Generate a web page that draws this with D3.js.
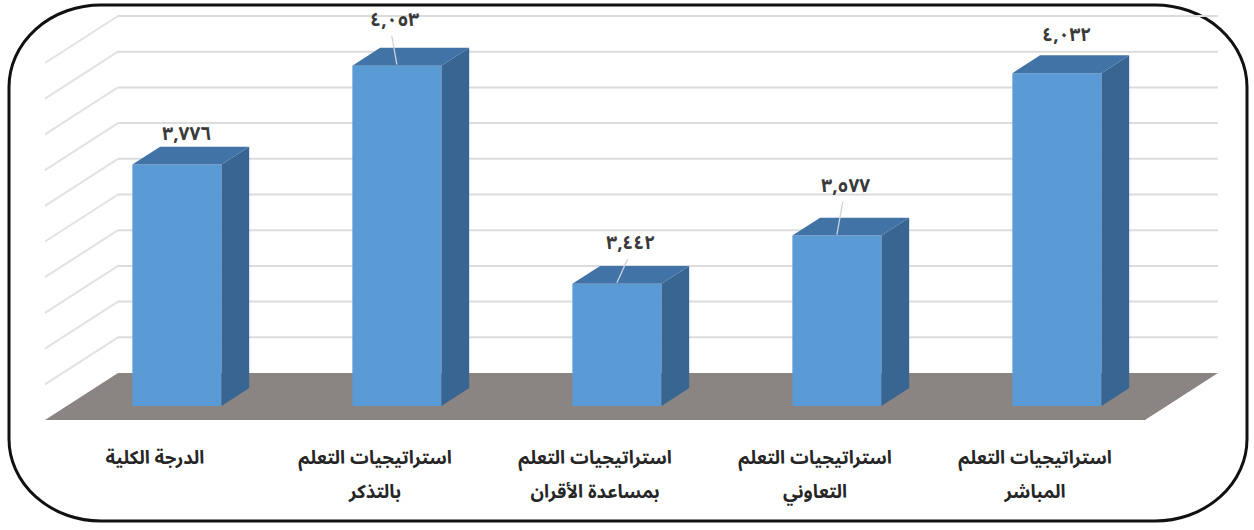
<!DOCTYPE html>
<html lang="ar">
<head>
<meta charset="utf-8">
<script src="https://cdn.jsdelivr.net/npm/d3@7"></script>
<style>
  html, body { margin: 0; padding: 0; background: #fff; }
  svg { display: block; }
  .val { font-family: "Noto Sans Arabic", "DejaVu Sans", sans-serif; font-weight: bold; font-size: 19px; fill: #3a3a3a; }
  .cat { font-family: "Noto Sans Arabic", "DejaVu Sans", sans-serif; font-weight: bold; font-size: 18.5px; fill: #262626; }
</style>
</head>
<body>
<div class="chart"></div>
<script>
// categories in the sheet's order (first one sits on the right)
var categories = [
  "استراتيجيات التعلم المباشر",
  "استراتيجيات التعلم التعاوني",
  "استراتيجيات التعلم بمساعدة الأقران",
  "استراتيجيات التعلم بالتذكر",
  "الدرجة الكلية"
];
var categoryLines = [
  ["استراتيجيات التعلم", "المباشر"],
  ["استراتيجيات التعلم", "التعاوني"],
  ["استراتيجيات التعلم", "بمساعدة الأقران"],
  ["استراتيجيات التعلم", "بالتذكر"],
  ["الدرجة الكلية"]
];
var values = [4.032, 3.577, 3.442, 4.053, 3.776];
var valueLabels = ["٤,٠٣٢", "٣,٥٧٧", "٣,٤٤٢", "٤,٠٥٣", "٣,٧٧٦"];
var axisDomain = [3.1, 4.1];

function wrapper(){

  var w = 1254, h = 530;

  var svg = d3.select("div.chart")
              .append("svg")
              .attr("width", w)
              .attr("height", h)
              .attr("viewBox", `0 0 ${w} ${h}`);

  //oblique depth vector for the whole floor
  var DX = 73, DY = 47;
  var barDepth = [0.3, 0.68];

  var x = d3.scaleBand()
            .domain(categories)
            .range([1145, 45]);

  //value -> y at the front edge of the floor
  var y = d3.scaleLinear()
            .domain(axisDomain)
            .range([420, 63]);

  function proj(xw, v, d){
    return [xw + d*DX, y(v) - d*DY];
  }

  //label nudges (manually moved data labels)
  var labelNudge = [[-4,-28],[-5,-40],[0,-31],[-16,-36],[-4,-21]];
  var leader = [false, true, true, true, false];

  //frame
  svg.append("rect")
     .attr("x", 9).attr("y", 5)
     .attr("width", 1238).attr("height", 516)
     .attr("rx", 92).attr("ry", 82)
     .attr("fill", "#fff")
     .attr("stroke", "#111")
     .attr("stroke-width", 3);

  var ticks = y.ticks(10).filter(t => t > axisDomain[0] + 1e-9);
  var x0 = x.range()[1], x1 = x.range()[0];

  //back wall gridlines
  svg.append("g")
     .selectAll("line")
     .data(ticks)
     .enter()
     .append("line")
       .attr("x1", t => proj(x0, t, 1)[0])
       .attr("y1", t => proj(x0, t, 1)[1])
       .attr("x2", t => proj(x1, t, 1)[0])
       .attr("y2", t => proj(x1, t, 1)[1])
       .attr("stroke", "#dcdcdc")
       .attr("stroke-width", 2);

  //side wall gridlines
  svg.append("g")
     .selectAll("line")
     .data(ticks)
     .enter()
     .append("line")
       .attr("x1", t => proj(x0, t, 1)[0])
       .attr("y1", t => proj(x0, t, 1)[1])
       .attr("x2", t => proj(x0, t, 0)[0])
       .attr("y2", t => proj(x0, t, 0)[1])
       .attr("stroke", "#e2e2e2")
       .attr("stroke-width", 2);

  //floor
  var base = axisDomain[0];
  var floorPts = [proj(x0, base, 1), proj(x1, base, 1), proj(x1, base, 0), proj(x0, base, 0)];
  svg.append("polygon")
     .attr("points", floorPts.map(p => p.join(",")).join(" "))
     .attr("fill", "#8a8482");

  //bars
  var bw = x.bandwidth() * 0.405;
  var pad = (x.bandwidth() - bw) / 2;

  var bars = categories.map(function(c, i){
    var xl = x(c) + pad;
    return {cat: c, value: values[i], label: valueLabels[i], xl: xl, xr: xl + bw, i: i};
  });

  function pts(arr){ return arr.map(p => p.join(",")).join(" "); }

  var g = svg.append("g")
             .selectAll("g")
             .data(bars)
             .enter()
             .append("g");

  //front
  g.append("polygon")
   .attr("points", d => pts([
       proj(d.xl, d.value, barDepth[0]), proj(d.xr, d.value, barDepth[0]),
       proj(d.xr, base, barDepth[0]), proj(d.xl, base, barDepth[0])]))
   .attr("fill", "#5b9bd5");

  //side
  g.append("polygon")
   .attr("points", d => pts([
       proj(d.xr, d.value, barDepth[0]), proj(d.xr, d.value, barDepth[1]),
       proj(d.xr, base, barDepth[1]), proj(d.xr, base, barDepth[0])]))
   .attr("fill", "#386591");

  //top
  g.append("polygon")
   .attr("points", d => pts([
       proj(d.xl, d.value, barDepth[0]), proj(d.xl, d.value, barDepth[1]),
       proj(d.xr, d.value, barDepth[1]), proj(d.xr, d.value, barDepth[0])]))
   .attr("fill", "#4273a6");

  //data labels
  function topCenter(d){
    var dm = (barDepth[0] + barDepth[1]) / 2;
    return proj((d.xl + d.xr) / 2, d.value, dm);
  }

  g.filter(d => leader[d.i])
   .append("line")
     .attr("x1", d => topCenter(d)[0] + labelNudge[d.i][0] - 3)
     .attr("y1", d => topCenter(d)[1] + labelNudge[d.i][1] + 15)
     .attr("x2", d => proj((d.xl + d.xr) / 2, d.value, barDepth[0])[0])
     .attr("y2", d => proj((d.xl + d.xr) / 2, d.value, barDepth[0])[1] - 1)
     .attr("stroke", "#c9d3dd")
     .attr("stroke-width", 1.3);

  g.append("text")
   .attr("class", "val")
   .attr("text-anchor", "middle")
   .attr("dominant-baseline", "middle")
   .attr("x", d => topCenter(d)[0] + labelNudge[d.i][0])
   .attr("y", d => topCenter(d)[1] + labelNudge[d.i][1])
   .text(d => d.label);

  //category labels, one text per line
  var lineData = [];
  categories.forEach(function(c, i){
    categoryLines[i].forEach(function(line, k){
      lineData.push({cat: c, text: line, k: k});
    });
  });

  svg.append("g")
     .selectAll("text")
     .data(lineData)
     .enter()
     .append("text")
       .attr("class", "cat")
       .attr("text-anchor", "middle")
       .attr("direction", "rtl")
       .attr("x", d => x(d.cat) + x.bandwidth() / 2)
       .attr("y", d => 464 + d.k * 34)
       .text(d => d.text);
}
window.onload = wrapper;
</script>
</body>
</html>
